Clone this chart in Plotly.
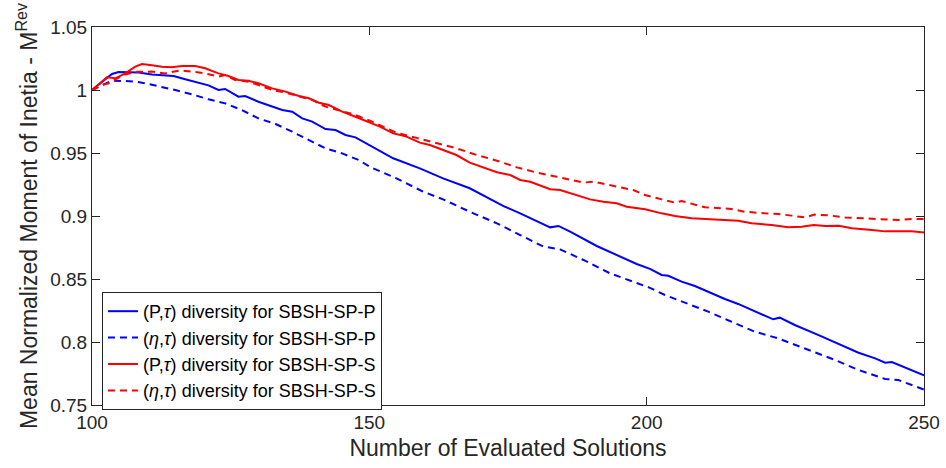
import plotly.graph_objects as go

# Blue solid: (P,tau) diversity for SBSH-SP-P
x_p_p = [100, 101.8, 103.6, 104.8, 106.6, 108.4, 110.8, 114.7, 116.8, 119.2, 121.0, 122.8, 124.0, 126.4, 127.6,
         130.0, 132.5, 134.3, 136.1, 137.9, 139.7, 142.1, 143.9, 145.7, 147.5, 150.1, 154.3, 159.1, 163.3, 168.1,
         174.2, 177.2, 182.6, 184.1, 186.2, 191.0, 194.6, 198.2, 200.6, 202.7, 203.9, 206.3, 208.7, 211.7, 214.1,
         216.5, 220.1, 222.8, 224.0, 226.7, 230.9, 234.6, 238.2, 241.2, 243.0, 244.2, 247.2, 250.0]
y_p_p = [1.0, 1.0066, 1.0127, 1.0143, 1.0138, 1.0138, 1.0124, 1.0111, 1.0085, 1.0058, 1.0037, 1.0, 1.0008, 0.9947, 0.9952,
         0.9907, 0.9868, 0.9841, 0.9828, 0.9775, 0.9749, 0.9690, 0.9682, 0.9643, 0.9624, 0.9560, 0.9458, 0.9378, 0.9299, 0.9220,
         0.9079, 0.9021, 0.8910, 0.8921, 0.8876, 0.8762, 0.8690, 0.8619, 0.8580, 0.8532, 0.8526, 0.8479, 0.8444, 0.8386, 0.8341,
         0.8302, 0.8233, 0.8180, 0.8193, 0.8135, 0.8056, 0.7984, 0.7915, 0.7870, 0.7836, 0.7841, 0.7783, 0.7735]

# Blue dashed: (eta,tau) diversity for SBSH-SP-P
x_e_p = [100, 102.4, 103.6, 106.0, 107.8, 109.6, 112.0, 115.0, 118.0, 121.0, 124.0, 127.0, 130.0, 133.1, 136.1,
         139.1, 142.1, 145.1, 148.1, 150.1, 154.9, 159.7, 163.3, 168.1, 173.0, 177.2, 181.4, 184.4, 188.6, 193.4,
         198.2, 200.6, 203.3, 206.9, 211.1, 215.3, 219.5, 223.7, 226.1, 229.8, 234.0, 238.2, 243.0, 245.4, 250.0]
y_e_p = [1.0, 1.0053, 1.0074, 1.0071, 1.0066, 1.0053, 1.0032, 1.0, 0.9966, 0.9926, 0.9894, 0.9841, 0.9775, 0.9730, 0.9669,
         0.9603, 0.9537, 0.9497, 0.9444, 0.9390, 0.9299, 0.9193, 0.9132, 0.9034, 0.8942, 0.8849, 0.8757, 0.8735, 0.8651, 0.8545,
         0.8471, 0.8430, 0.8373, 0.8312, 0.8241, 0.8161, 0.8082, 0.8029, 0.7989, 0.7923, 0.7857, 0.7778, 0.7706, 0.7698, 0.7622]

# Red solid: (P,tau) diversity for SBSH-SP-S
x_p_s = [100, 101.5, 102.7, 104.2, 106.0, 107.8, 109.0, 110.8, 112.6, 114.4, 116.2, 118.6, 120.4, 122.8, 124.6,
         126.4, 128.2, 130.0, 132.5, 134.9, 137.3, 139.1, 140.9, 142.7, 145.1, 147.5, 150.1, 151.9, 154.3, 156.7,
         159.1, 160.9, 163.3, 165.7, 168.1, 170.6, 173.0, 175.4, 177.2, 179.0, 182.6, 184.4, 187.4, 189.8, 192.2,
         194.6, 196.4, 199.7, 202.7, 205.1, 208.1, 211.7, 214.1, 216.5, 218.9, 222.5, 225.5, 227.9, 230.1, 232.2,
         234.6, 237.0, 240.6, 243.0, 247.8, 250.0]
y_p_s = [1.0, 1.0053, 1.0101, 1.0093, 1.0132, 1.0185, 1.0206, 1.0196, 1.0185, 1.0180, 1.0190, 1.0190, 1.0172, 1.0132, 1.0111,
         1.0079, 1.0074, 1.0053, 1.0013, 0.9987, 0.9952, 0.9934, 0.9899, 0.9881, 0.9828, 0.9788, 0.9741, 0.9709, 0.9656, 0.9630,
         0.9582, 0.9563, 0.9524, 0.9484, 0.9423, 0.9386, 0.9347, 0.9325, 0.9286, 0.9272, 0.9212, 0.9206, 0.9167, 0.9132, 0.9114,
         0.9101, 0.9074, 0.9053, 0.9021, 0.9000, 0.8982, 0.8976, 0.8968, 0.8963, 0.8942, 0.8929, 0.8910, 0.8915, 0.8929, 0.8921,
         0.8923, 0.8902, 0.8889, 0.8878, 0.8878, 0.8870]

# Red dashed: (eta,tau) diversity for SBSH-SP-S
x_e_s = [100, 101.8, 103.0, 105.6, 108.1, 110.8, 113.2, 115.9, 118.0, 120.4, 122.8, 124.0, 125.8, 128.2, 130.0,
         132.5, 134.9, 137.3, 139.7, 142.1, 145.1, 147.5, 150.5, 154.9, 158.5, 162.1, 165.7, 169.4, 173.0, 176.6,
         180.2, 183.8, 186.2, 188.6, 190.4, 192.2, 194.6, 197.6, 199.7, 202.7, 205.1, 206.3, 210.5, 215.3, 217.7,
         221.3, 223.7, 226.1, 228.5, 230.3, 232.8, 235.8, 240.6, 245.4, 247.8, 250.0]
y_e_s = [1.0, 1.0040, 1.0053, 1.0119, 1.0145, 1.0146, 1.0132, 1.0155, 1.0146, 1.0132, 1.0106, 1.0119, 1.0079, 1.0066, 1.0040,
         1.0, 0.9979, 0.9947, 0.9921, 0.9868, 0.9828, 0.9802, 0.9749, 0.9660, 0.9620, 0.9577, 0.9537, 0.9484, 0.9439, 0.9386,
         0.9344, 0.9312, 0.9286, 0.9265, 0.9273, 0.9254, 0.9233, 0.9206, 0.9167, 0.9132, 0.9106, 0.9119, 0.9069, 0.9056, 0.9034,
         0.9021, 0.9016, 0.9003, 0.8989, 0.9011, 0.9005, 0.8989, 0.8976, 0.8968, 0.8976, 0.8976]

labels = ["(P,<i>τ</i>) diversity for SBSH-SP-P",
          "(<i>η</i>,<i>τ</i>) diversity for SBSH-SP-P",
          "(P,<i>τ</i>) diversity for SBSH-SP-S",
          "(<i>η</i>,<i>τ</i>) diversity for SBSH-SP-S"]
x_ticks = [100, 150, 200, 250]
y_ticks = [0.75, 0.8, 0.85, 0.9, 0.95, 1.0, 1.05]
y_tick_text = ["0.75", "0.8", "0.85", "0.9", "0.95", "1", "1.05"]

series = [(x_p_p, y_p_p, "#0000FF", "solid"),
          (x_e_p, y_e_p, "#0000FF", "7px,5px"),
          (x_p_s, y_p_s, "#FF0000", "solid"),
          (x_e_s, y_e_s, "#FF0000", "7px,5px")]

fig = go.Figure()
for (xs, ys, col, dash), name in zip(series, labels):
    fig.add_trace(go.Scatter(x=xs, y=ys, mode="lines", name=name,
                             line=dict(color=col, width=2, dash=dash)))

axcol = "#262626"
font_family = "Liberation Sans, Arial, sans-serif"
fig.update_layout(
    width=946, height=468,
    margin=dict(l=92, r=22, t=27, b=63, autoexpand=False),
    paper_bgcolor="white", plot_bgcolor="white",
    font=dict(family=font_family, size=19, color=axcol),
    showlegend=True,
    legend=dict(x=0.012, y=0.299, xanchor="left", yanchor="top",
                bgcolor="white", bordercolor=axcol, borderwidth=1,
                font=dict(size=18, color="black"), tracegroupgap=0,
                itemwidth=30),
)
fig.update_xaxes(range=[100, 250], tickvals=x_ticks, ticks="inside", ticklen=8,
                 showline=True, linecolor=axcol, linewidth=1, mirror="ticks",
                 tickcolor=axcol, showgrid=False, zeroline=False, automargin=False,
                 title=dict(text="Number of Evaluated Solutions", standoff=8),
                 tickfont=dict(size=19))
fig.update_yaxes(range=[0.75, 1.05], tickvals=y_ticks, ticktext=y_tick_text, ticks="inside", ticklen=8,
                 showline=True, linecolor=axcol, linewidth=1, mirror="ticks",
                 tickcolor=axcol, showgrid=False, zeroline=False, automargin=False,
                 title=dict(text="Mean Normalized Moment of Inetia - M<sup>Rev</sup>", standoff=6),
                 tickfont=dict(size=19))

fig.write_html("out.html")
